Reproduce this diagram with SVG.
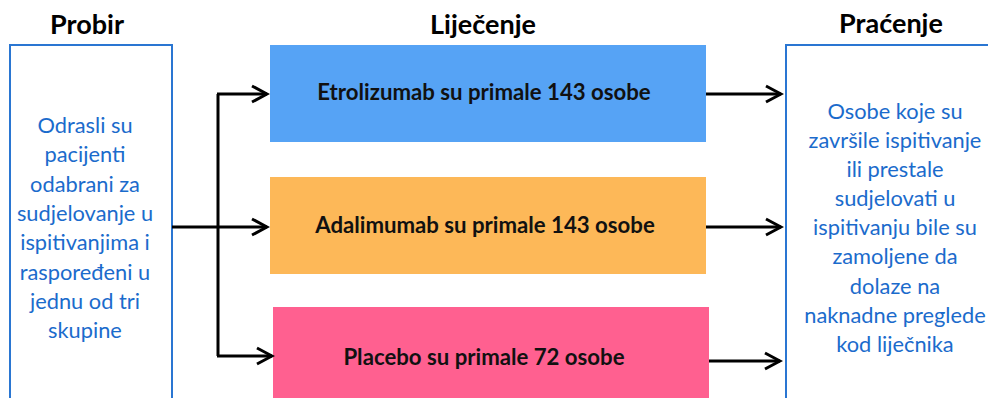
<svg xmlns="http://www.w3.org/2000/svg" width="988" height="398" viewBox="0 0 988 398">
<style>
.hdr{font-family:Lato,"Liberation Sans",sans-serif;font-weight:bold;font-size:27px;fill:#000;text-anchor:middle}
.lbl{font-family:Lato,"Liberation Sans",sans-serif;font-weight:bold;font-size:22.2px;fill:#111;text-anchor:middle}
.desc{font-family:Lato,"Liberation Sans",sans-serif;font-size:21.8px;fill:#1b6bcc;text-anchor:middle}
.frame{fill:#fff;stroke:#2a76d2;stroke-width:2}
.conn{fill:none;stroke:#000;stroke-width:3}
</style>
<defs>
<marker id="arr" markerUnits="userSpaceOnUse" markerWidth="20" markerHeight="20" viewBox="-17 -10 20 20" refX="0" refY="0" orient="auto">
<path d="M-15,-8 L0,0 L-15,8" fill="none" stroke="#000" stroke-width="3"/>
</marker>
</defs>
<rect width="988" height="398" fill="#fff"/>
<g id="probir">
<text class="hdr" x="87" y="34">Probir</text>
<rect class="frame" x="10" y="45" width="162" height="380"/>
<text class="desc" x="85" y="133">Odrasli su</text>
<text class="desc" x="85" y="162">pacijenti</text>
<text class="desc" x="85" y="192">odabrani za</text>
<text class="desc" x="85" y="221">sudjelovanje u</text>
<text class="desc" x="85" y="250">ispitivanjima i</text>
<text class="desc" x="85" y="280">raspoređeni u</text>
<text class="desc" x="85" y="309">jednu od tri</text>
<text class="desc" x="85" y="338">skupine</text>
</g>
<g id="lijecenje">
<text class="hdr" x="483" y="34">Liječenje</text>
</g>
<g id="etrolizumab">
<rect x="270" y="45" width="436" height="97" fill="#56a3f5"/>
<text class="lbl" x="484" y="100">Etrolizumab su primale 143 osobe</text>
</g>
<g id="adalimumab">
<rect x="270" y="177" width="436" height="97" fill="#fdb858"/>
<text class="lbl" x="485" y="233">Adalimumab su primale 143 osobe</text>
</g>
<g id="placebo">
<rect x="273" y="307" width="436" height="110" fill="#ff6090"/>
<text class="lbl" x="484" y="365">Placebo su primale 72 osobe</text>
</g>
<g id="pracenje">
<text class="hdr" x="891" y="33">Praćenje</text>
<rect class="frame" x="786" y="45" width="230" height="380"/>
<text class="desc" x="895" y="119">Osobe koje su</text>
<text class="desc" x="895" y="148">završile ispitivanje</text>
<text class="desc" x="895" y="177">ili prestale</text>
<text class="desc" x="895" y="206">sudjelovati u</text>
<text class="desc" x="895" y="235">ispitivanju bile su</text>
<text class="desc" x="895" y="264">zamoljene da</text>
<text class="desc" x="895" y="294">dolaze na</text>
<text class="desc" x="895" y="323">naknadne preglede</text>
<text class="desc" x="895" y="352">kod liječnika</text>
</g>
<g id="connectors">
<path class="conn" d="M172,227 H267" marker-end="url(#arr)"/>
<path class="conn" d="M218,94 V356"/>
<path class="conn" d="M217,94 H267" marker-end="url(#arr)"/>
<path class="conn" d="M217,356 H272" marker-end="url(#arr)"/>
<path class="conn" d="M706,94 H781" marker-end="url(#arr)"/>
<path class="conn" d="M706,227 H781" marker-end="url(#arr)"/>
<path class="conn" d="M709,361 H780" marker-end="url(#arr)"/>
</g>
</svg>
